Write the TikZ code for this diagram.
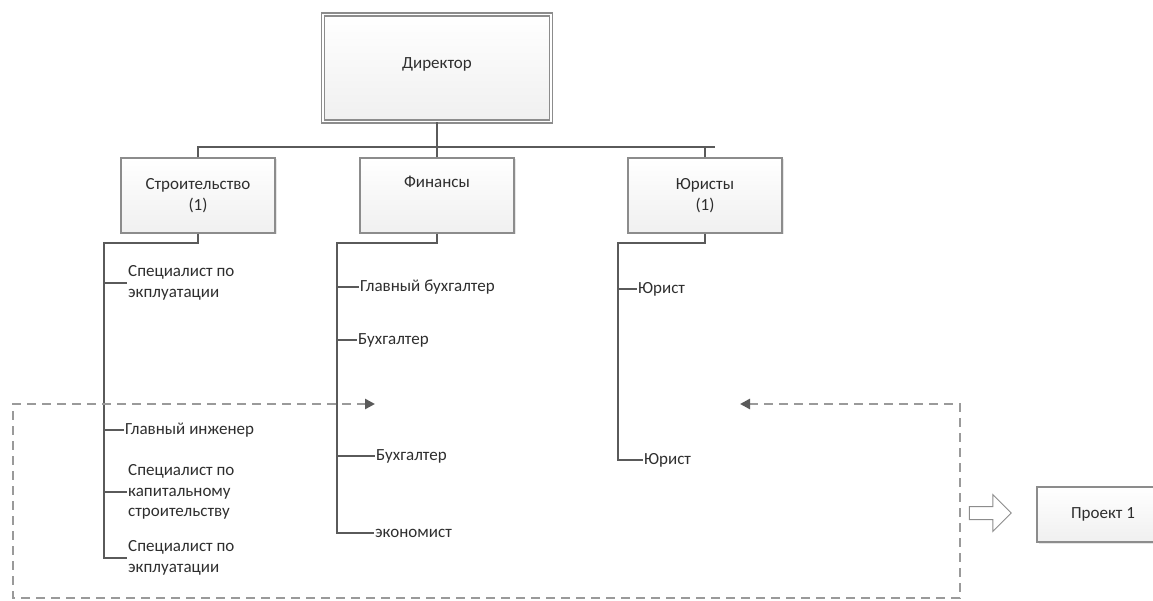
\documentclass[tikz,border=0pt]{standalone}
\usepackage{fontspec}
\setmainfont{Carlito}
\usetikzlibrary{arrows.meta,positioning,shapes.arrows,shadows}

\definecolor{boxline}{HTML}{8C8C8C}
\definecolor{linec}{HTML}{5A5A5A}
\definecolor{dashc}{HTML}{9A9A9A}
\definecolor{txt}{HTML}{2E2E2E}

\begin{document}
\begin{tikzpicture}[
  x=1pt, y=-1pt,
  font=\fontsize{17}{20.5}\selectfont,
  box/.style={draw=boxline, line width=1.3pt, top color=white, bottom color=gray!12, text=txt,
    align=center, minimum width=154pt, minimum height=75pt, inner sep=2pt,
    drop shadow={shadow xshift=1.5pt, shadow yshift=-1.5pt, opacity=0.2}},
  dirbox/.style={box, double=white, double distance=1.2pt, line width=1.8pt,
    minimum width=228pt, minimum height=107pt},
  item/.style={anchor=west, align=left, inner sep=1pt, text=txt},
  conn/.style={draw=linec, line width=1.3pt},
  frame/.style={draw=dashc, line width=2.8pt, dash pattern=on 9pt off 6pt,
    {Triangle[length=10pt,width=10pt,color=linec]}-{Triangle[length=10pt,width=10pt,color=linec]}},
  hollow/.style={single arrow, draw=boxline, fill=white, line width=1pt, minimum height=42pt,
    single arrow head extend=12pt, inner xsep=0pt, inner ysep=6pt}
]
  \useasboundingbox (0,0) rectangle (1153,601);

  % top level
  \node[dirbox] (dir) at (437,68) {\raisebox{10pt}{Директор}};
  \node[box] (str) at (198,195.5) {Строительство\\(1)};
  \node[box] (fin) at (437,195.5) {Финансы\\\strut};
  \node[box] (yur) at (705,195.5) {Юристы\\(1)};
  \node[box, minimum width=132pt, minimum height=55pt] (proj) at (1103,514.5) {Проект 1};

  \coordinate (bus) at (715,147);
  \draw[conn] (dir.south) -- (dir.south |- bus);
  \draw[conn] (str.north) |- (bus);
  \draw[conn] (fin.north) -- (fin.north |- bus);
  \draw[conn] (yur.north) -- (yur.north |- bus);

  % Строительство
  \node[item] (st1) at (127,283) {Специалист по\\экплуатации};
  \node[item] (st2) at (124,430) {Главный инженер};
  \node[item] (st3) at (127,492) {Специалист по\\капитальному\\строительству};
  \node[item] (st4) at (127,558) {Специалист по\\экплуатации};
  \coordinate (stA) at (104,243);
  \draw[conn] (str.south) |- (stA) |- (st4.west);
  \draw[conn] (stA |- st1.west) -- (st1.west);
  \draw[conn] (stA |- st2.west) -- (st2.west);
  \draw[conn] (stA |- st3.west) -- (st3.west);

  % Финансы
  \node[item] (fn1) at (359,287) {Главный бухгалтер};
  \node[item] (fn2) at (357,340) {Бухгалтер};
  \node[item] (fn3) at (375,456) {Бухгалтер};
  \node[item] (fn4) at (374,533) {экономист};
  \coordinate (fnA) at (337,243);
  \draw[conn] (fin.south) |- (fnA) |- (fn4.west);
  \draw[conn] (fnA |- fn1.west) -- (fn1.west);
  \draw[conn] (fnA |- fn2.west) -- (fn2.west);
  \draw[conn] (fnA |- fn3.west) -- (fn3.west);

  % Юристы
  \node[item] (yu1) at (637,289) {Юрист};
  \node[item] (yu2) at (643,460) {Юрист};
  \coordinate (yuA) at (618,243);
  \draw[conn] (yur.south) |- (yuA) |- (yu2.west);
  \draw[conn] (yuA |- yu1.west) -- (yu1.west);

  % проектная рамка
  \coordinate (tipL) at (375,404);
  \coordinate (tipR) at (740,404);
  \draw[frame] (tipL) -- (13,404) -- (13,598) -- (960,598) -- (960,404) -- (tipR);
  \node[hollow] (go) at (987,513) {};
\end{tikzpicture}
\end{document}
